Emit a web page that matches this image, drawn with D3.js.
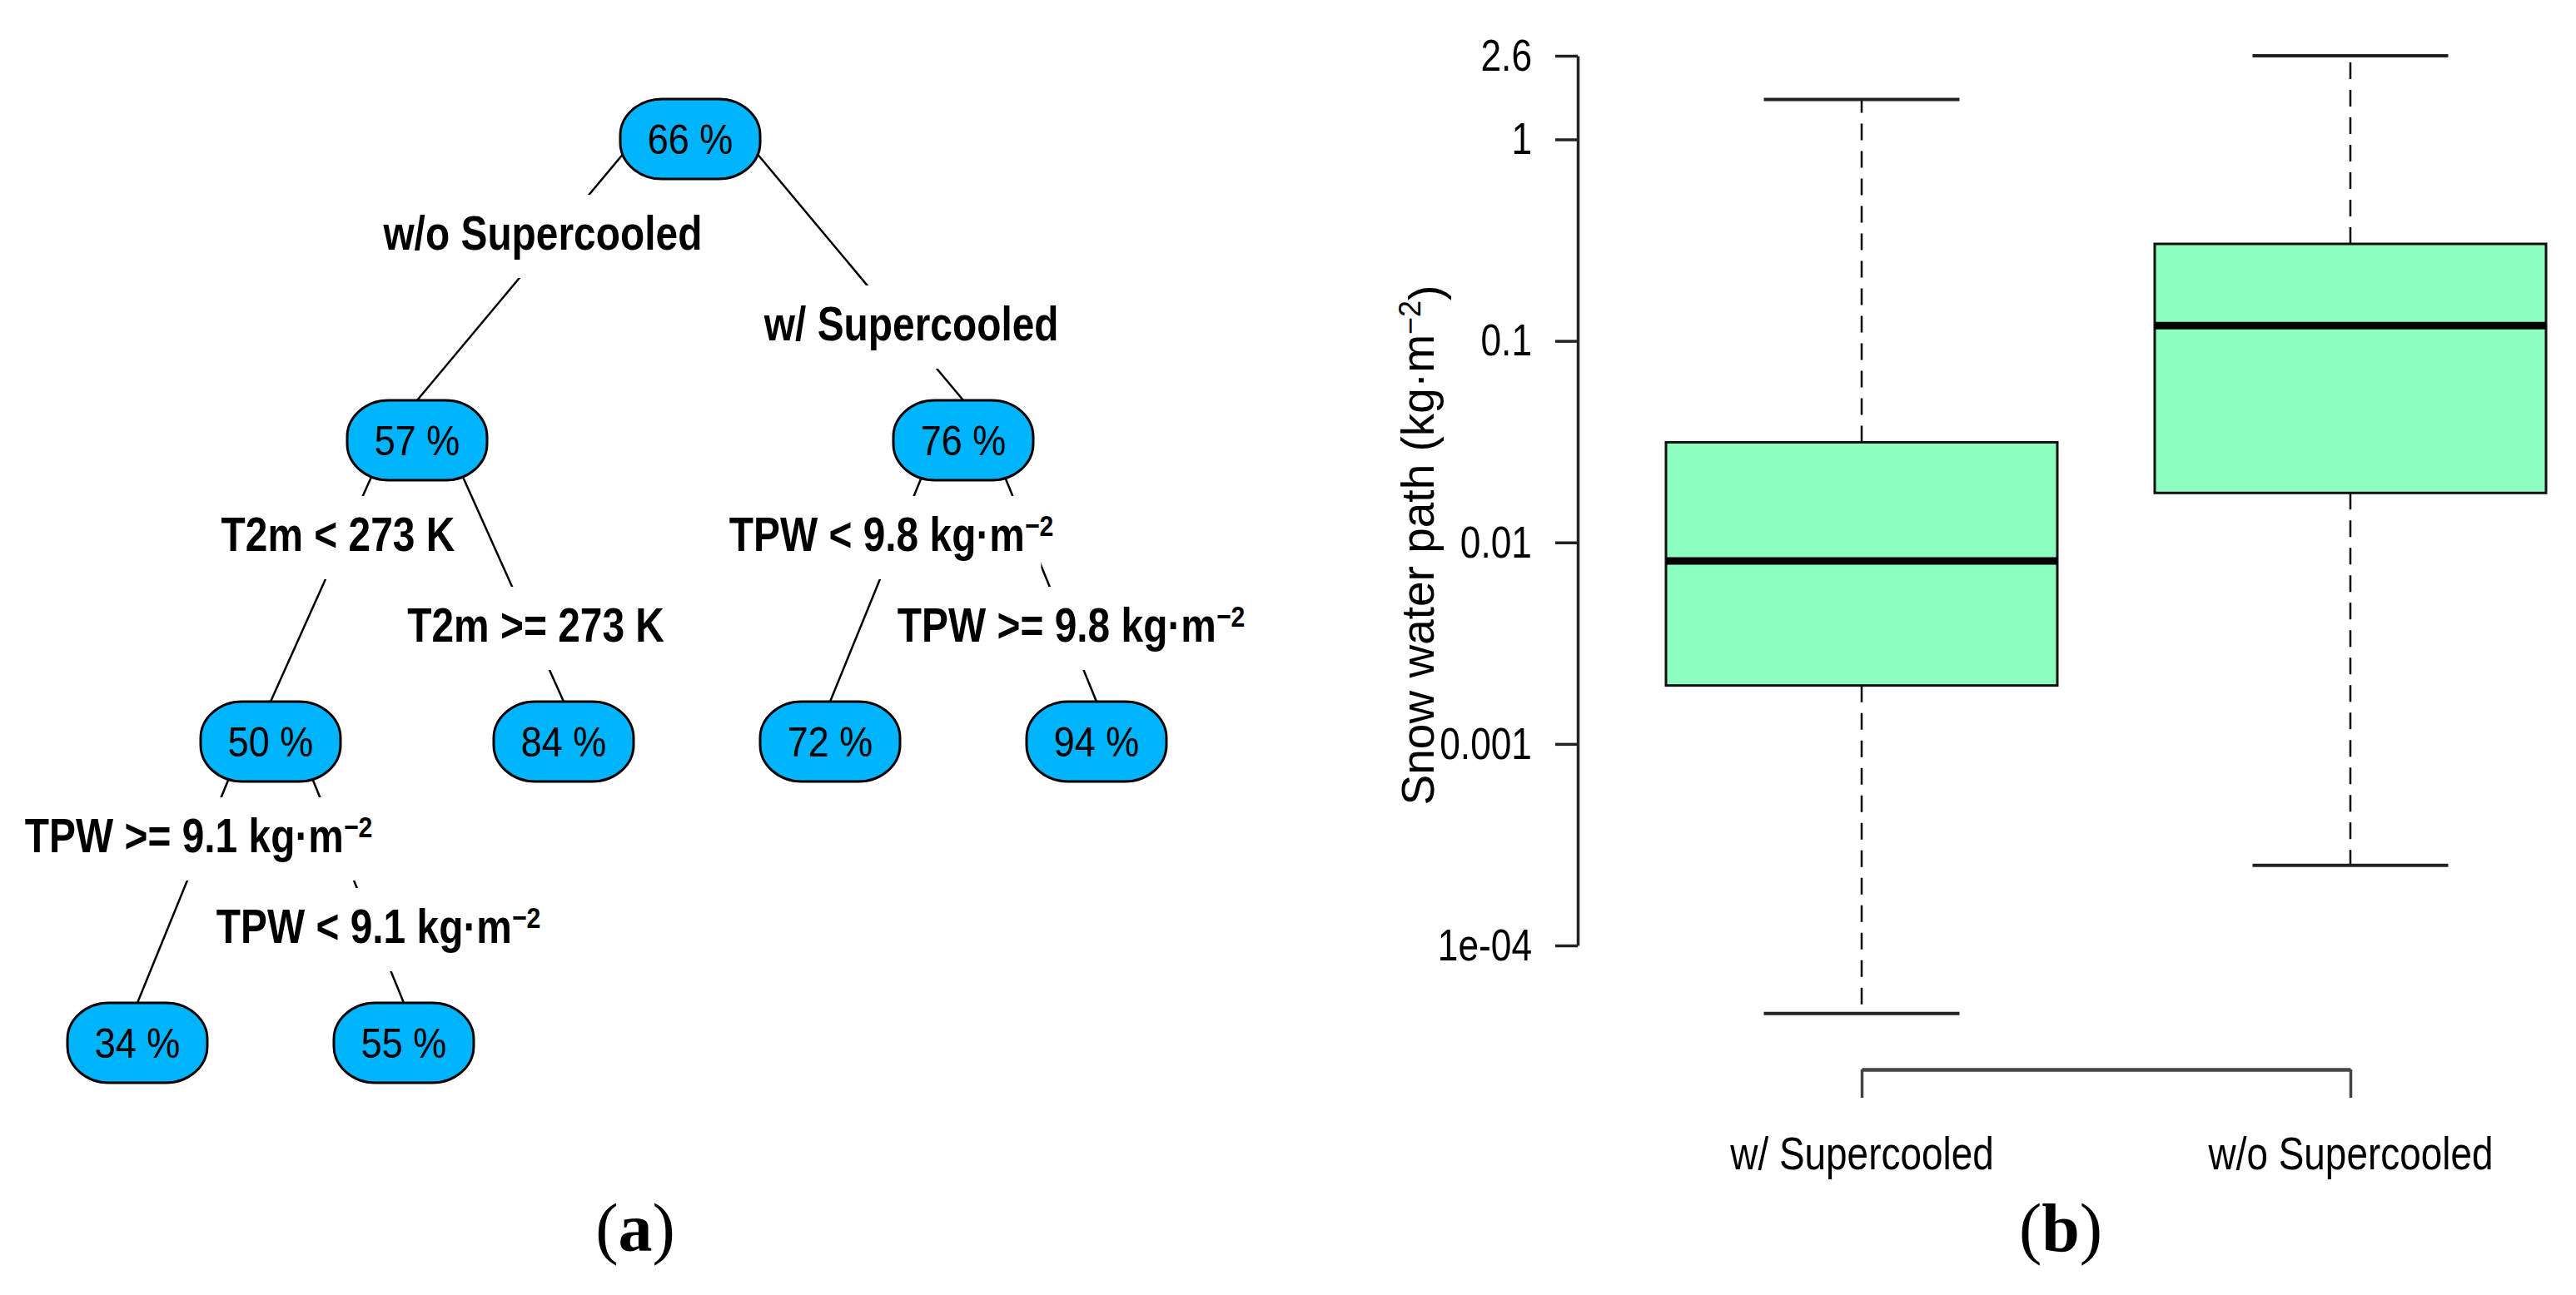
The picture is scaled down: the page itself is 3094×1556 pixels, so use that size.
<!DOCTYPE html>
<html>
<head>
<meta charset="utf-8">
<script src="https://cdn.jsdelivr.net/npm/d3@7"></script>
<style>
  body { margin: 0; background: #fff; }
  svg { display: block; }
</style>
</head>
<body>
<svg id="fig" width="3094" height="1556"></svg>
<script>
// ---- panel (a): classification tree ----
var nodeLabels = ["66 %", "57 %", "76 %", "50 %", "84 %", "72 %", "94 %", "34 %", "55 %"];
var parents = [null, 0, 0, 1, 1, 2, 2, 3, 3];
var depth = [0, 1, 1, 2, 2, 2, 2, 3, 3];
var splitText = [null, "w/o Supercooled", "w/ Supercooled", "T2m < 273 K", "T2m >= 273 K",
    "TPW < 9.8 kg·m", "TPW >= 9.8 kg·m", "TPW >= 9.1 kg·m", "TPW < 9.1 kg·m"];
var splitSup = [null, "", "", "", "", "−2", "−2", "−2", "−2"];
// leaves in plotting order and their slot on the tree x axis
var leaves = [7, 8, 4, 5, 6];
var leafSlot = [0, 1, 1.6, 2.6, 3.6];

// ---- panel (b): boxplot of snow water path ----
var groups = ["w/ Supercooled", "w/o Supercooled"];
var whiskLo = [4.6e-5, 2.5e-4];
var q1 = [0.00195, 0.0176];
var med = [0.0081, 0.119];
var q3 = [0.0314, 0.303];
var whiskHi = [1.58, 2.6];
var yTicks = [2.6, 1, 0.1, 0.01, 0.001, 1e-4];
var yTickLabels = ["2.6", "1", "0.1", "0.01", "0.001", "1e-04"];

var svg = d3.select("#fig");
var sans = "'Liberation Sans', Arial, sans-serif";

// text squeezed horizontally (the original looks like a narrow font)
function narrowText(parent, x, y, sx) {
    return parent.append("g")
        .attr("transform", "translate(" + x + "," + y + ") scale(" + sx + ",1)")
        .append("text")
        .style("font-family", sans);
}

// tree layout
var xTree = d3.scaleLinear().domain([0, 3.6]).range([165, 1317]);
var yTree = d3.scaleLinear().domain([0, 3]).range([167, 1253]);

var nodes = nodeLabels.map(function (lab, i) {
    return { id: i, label: lab, parent: parents[i], depth: depth[i], children: [] };
});
nodes.forEach(function (n) {
    if (n.parent !== null) nodes[n.parent].children.push(n.id);
});
function placeX(i) {
    var n = nodes[i];
    if (n.children.length === 0) {
        n.x = xTree(leafSlot[leaves.indexOf(i)]);
    } else {
        n.x = d3.mean(n.children.map(placeX));
    }
    return n.x;
}
placeX(0);
nodes.forEach(function (n) { n.y = yTree(n.depth); });

var nodeW = 168, nodeH = 96;
var gTree = svg.append("g");

// branches
nodes.filter(function (n) { return n.parent !== null; }).forEach(function (n) {
    var p = nodes[n.parent];
    gTree.append("line")
        .attr("x1", p.x + 0.2 * (n.x - p.x))
        .attr("y1", p.y)
        .attr("x2", n.x)
        .attr("y2", n.y - nodeH / 2)
        .attr("stroke", "#000")
        .attr("stroke-width", 2.5);
});

// split labels with white background
var sxLab = 0.84;
nodes.filter(function (n) { return n.parent !== null; }).forEach(function (n) {
    var p = nodes[n.parent];
    var isLeft = p.children[0] === n.id;
    var lx = p.x + (n.x - p.x) * (isLeft ? 0.54 : 0.81);
    var ly = p.y + (isLeft ? 113 : 222);
    var g = gTree.append("g");
    var bg = g.append("rect").attr("fill", "#fff");
    var t = narrowText(g, lx, ly + 20, sxLab)
        .attr("text-anchor", "middle")
        .style("font-weight", "bold")
        .style("font-size", "57px")
        .text(splitText[n.id]);
    if (splitSup[n.id]) {
        t.append("tspan")
            .attr("dy", "-0.5em")
            .style("font-size", "36px")
            .text(splitSup[n.id]);
    }
    var w = t.node().getBBox().width * sxLab - 30;
    bg.attr("x", lx - w / 2).attr("width", w)
        .attr("y", ly - 46).attr("height", 100);
});

// nodes
var gn = gTree.selectAll("g.node").data(nodes).enter().append("g")
    .attr("class", "node")
    .attr("transform", function (d) { return "translate(" + d.x + "," + d.y + ")"; });
gn.append("rect")
    .attr("x", -nodeW / 2).attr("y", -nodeH / 2)
    .attr("width", nodeW).attr("height", nodeH)
    .attr("rx", 50).attr("ry", 44)
    .attr("fill", "#00b4fb")
    .attr("stroke", "#000")
    .attr("stroke-width", 3);
gn.each(function (d) {
    narrowText(d3.select(this), 0, 18, 0.9)
        .attr("text-anchor", "middle")
        .style("font-size", "50px")
        .text(d.label);
});

// ---- boxplot ----
var y = d3.scaleLog().domain([1e-4, 2.6]).range([1136, 67]);
var x = d3.scalePoint().domain(groups).range([2236, 2823]);
var boxW = 470, capW = 235;

var gBox = svg.append("g");
groups.forEach(function (gname, i) {
    var cx = x(gname);
    // whiskers
    gBox.append("line")
        .attr("x1", cx).attr("x2", cx)
        .attr("y1", y(q3[i])).attr("y2", y(whiskHi[i]))
        .attr("stroke", "#000").attr("stroke-width", 2.5)
        .attr("stroke-dasharray", "20,13");
    gBox.append("line")
        .attr("x1", cx).attr("x2", cx)
        .attr("y1", y(q1[i])).attr("y2", y(whiskLo[i]))
        .attr("stroke", "#000").attr("stroke-width", 2.5)
        .attr("stroke-dasharray", "20,13");
    [whiskHi[i], whiskLo[i]].forEach(function (v) {
        gBox.append("line")
            .attr("x1", cx - capW / 2).attr("x2", cx + capW / 2)
            .attr("y1", y(v)).attr("y2", y(v))
            .attr("stroke", "#222").attr("stroke-width", 4);
    });
    gBox.append("rect")
        .attr("x", cx - boxW / 2)
        .attr("width", boxW)
        .attr("y", y(q3[i]))
        .attr("height", y(q1[i]) - y(q3[i]))
        .attr("fill", "#8dffc1")
        .attr("stroke", "#111")
        .attr("stroke-width", 3);
    gBox.append("line")
        .attr("x1", cx - boxW / 2).attr("x2", cx + boxW / 2)
        .attr("y1", y(med[i])).attr("y2", y(med[i]))
        .attr("stroke", "#000").attr("stroke-width", 9);
});

var sxAxis = 0.82;
var yAxis = svg.append("g")
    .attr("transform", "translate(1895,0)")
    .call(d3.axisLeft(y).tickValues(yTicks)
        .tickFormat(function (d, i) { return yTickLabels[i]; })
        .tickSize(27).tickSizeOuter(0).tickPadding(28));
yAxis.select(".domain").attr("stroke", "#222").attr("stroke-width", 3.5);
yAxis.selectAll(".tick line").attr("stroke", "#222").attr("stroke-width", 3.5);
yAxis.selectAll(".tick text")
    .style("font-family", sans).style("font-size", "54px").attr("fill", "#000")
    .each(function () {
        var tx = +this.getAttribute("x");
        d3.select(this).attr("x", 0)
            .attr("transform", "translate(" + tx + ",0) scale(" + sxAxis + ",1)");
    });

var xAxis = svg.append("g")
    .attr("transform", "translate(0,1285)")
    .call(d3.axisBottom(x).tickSize(34).tickSizeOuter(0).tickPadding(46));
xAxis.select(".domain").attr("stroke", "#444").attr("stroke-width", 4.5);
xAxis.selectAll(".tick line").attr("stroke", "#444").attr("stroke-width", 3.5);
xAxis.selectAll(".tick text")
    .style("font-family", sans).style("font-size", "56px").attr("fill", "#000")
    .attr("transform", "scale(" + sxAxis + ",1)");

var yt = svg.append("text")
    .attr("transform", "translate(1722,655) rotate(-90)")
    .attr("text-anchor", "middle")
    .style("font-family", sans)
    .style("font-size", "55px")
    .text("Snow water path (kg·m");
yt.append("tspan").attr("dy", "-0.45em").style("font-size", "36px").text("−2");
yt.append("tspan").attr("dy", "0.45em").text(")");

// panel letters
[["a", 763], ["b", 2475]].forEach(function (p) {
    var t = svg.append("text")
        .attr("x", p[1]).attr("y", 1503)
        .attr("text-anchor", "middle")
        .style("font-family", "'Liberation Serif', 'Times New Roman', serif")
        .style("font-size", "82px");
    t.append("tspan").text("(");
    t.append("tspan").style("font-weight", "bold").text(p[0]);
    t.append("tspan").text(")");
});
</script>
</body>
</html>
